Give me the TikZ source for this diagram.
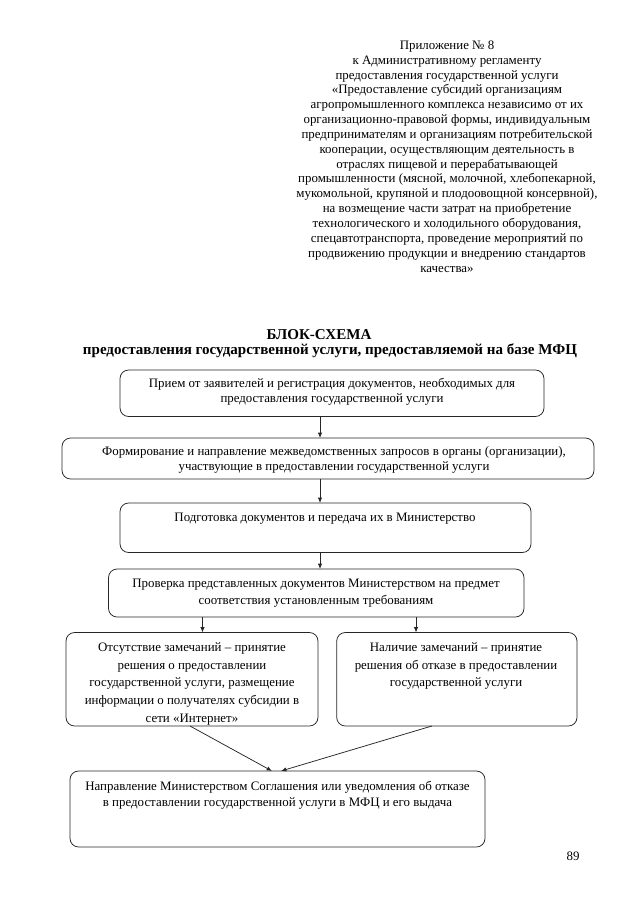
\documentclass[tikz,border=0pt]{standalone}
\usepackage{fontspec}
\setmainfont{Liberation Serif}
\usetikzlibrary{arrows.meta,calc}
\def\px{0.9301pt}
\tikzset{
  box/.style 2 args={draw=black!85, rounded corners=8pt, line width=0.7pt,
    minimum width=#1*\px, minimum height=#2*\px, inner sep=0pt, outer sep=0pt},
  txt/.style={align=center, inner sep=0pt, font=\fontsize{12}{13.8}\selectfont},
  txtwide/.style={align=center, inner sep=0pt, font=\fontsize{12}{16.3}\selectfont},
  ttl/.style={align=center, inner sep=0pt, font=\fontsize{14}{16}\selectfont\bfseries},
  arr/.style={-{Latex[length=5pt,width=4pt]}, line width=0.7pt, draw=black!85},
}
\begin{document}
\begin{tikzpicture}[x=0.9301pt,y=-0.9301pt]
\useasboundingbox (0,0) rectangle (640,905);

% header
\node[txt] (hdr) at (447,156.5) {Приложение № 8\\
к Административному регламенту\\
предоставления государственной услуги\\
«Предоставление субсидий организациям\\
агропромышленного комплекса независимо от их\\
организационно-правовой формы, индивидуальным\\
предпринимателям и организациям потребительской\\
кооперации, осуществляющим деятельность в\\
отраслях пищевой и перерабатывающей\\
промышленности (мясной, молочной, хлебопекарной,\\
мукомольной, крупяной и плодоовощной консервной),\\
на возмещение части затрат на приобретение\\
технологического и холодильного оборудования,\\
спецавтотранспорта, проведение мероприятий по\\
продвижению продукции и внедрению стандартов\\
качества»};

% titles
\node[ttl] (title) at (319,335) {БЛОК-СХЕМА};
\node[ttl] (subtitle) at (330,351) {предоставления государственной услуги, предоставляемой на базе МФЦ};

% boxes
\node[box={424}{46.5}] (b1) at (332,393.25) {};
\node[box={532}{41}] (b2) at (328,458.5) {};
\node[box={411}{49.5}] (b3) at (325.5,527.75) {};
\node[box={415.5}{48}] (b4) at (316.25,593) {};
\node[box={252}{93.5}] (b5) at (192,679.25) {};
\node[box={240.3}{93.5}] (b6) at (456.85,679.25) {};
\node[box={415}{76}] (b7) at (277.5,809) {};

% texts
\node[txt] (t1) at (332,391.4) {Прием от заявителей и регистрация документов, необходимых для\\
предоставления государственной услуги};
\node[txt] (t2) at (334,459.5) {Формирование и направление межведомственных запросов в органы (организации),\\
участвующие в предоставлении государственной услуги};
\node[txt] (t3) at (325,518.4) {Подготовка документов и передача их в Министерство};
\node[txtwide] (t4) at (316,593.3) {Проверка представленных документов Министерством на предмет\\
соответствия установленным требованиям};
\node[txtwide] (t5) at (192,683.9) {Отсутствие замечаний – принятие\\
решения о предоставлении\\
государственной услуги, размещение\\
информации о получателях субсидии в\\
сети «Интернет»};
\node[txtwide] (t6) at (456,666.3) {Наличие замечаний – принятие\\
решения об отказе в предоставлении\\
государственной услуги};
\node[align=center, inner sep=0pt, font=\fontsize{12}{15.3}\selectfont] (t7) at (277.5,795.5) {Направление Министерством Соглашения или уведомления об отказе\\
в предоставлении государственной услуги в МФЦ и его выдача};

\node[txt] (pg) at (573,856) {89};

% connectors
\coordinate (ax) at (320,0);
\coordinate (x4) at (202.5,0);
\coordinate (x5) at (416,0);
\draw[arr] (b1.south -| ax) -- (b2.north -| ax);
\draw[arr] (b2.south -| ax) -- (b3.north -| ax);
\draw[arr] (b3.south -| ax) -- (b4.north -| ax);
\draw[arr] (b4.south -| x4) -- (b5.north -| x4);
\draw[arr] (b4.south -| x5) -- (b6.north -| x5);
\draw[arr] ($(b5.south)+(-2,0)$) -- ($(b7.north)+(-5.5,0)$);
\draw[arr] ($(b6.south)+(-25,0)$) -- ($(b7.north)+(3.5,0)$);
\end{tikzpicture}
\end{document}
